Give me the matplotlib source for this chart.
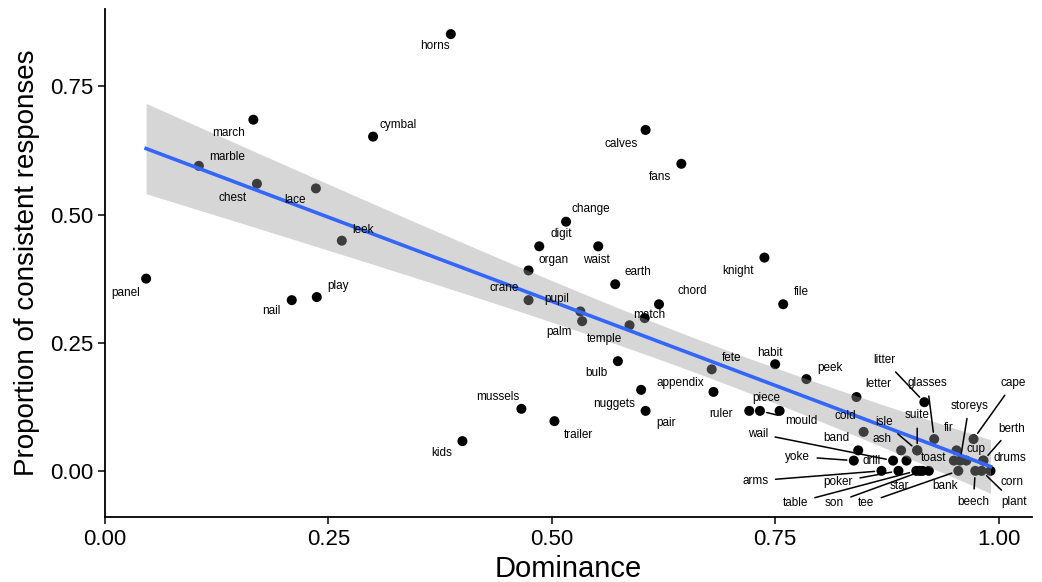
import numpy as np
import matplotlib
matplotlib.use("Agg")
import matplotlib.pyplot as plt

plt.rcParams['font.family'] = ['Liberation Sans', 'DejaVu Sans']

# data
words = ["horns", "march", "cymbal", "marble", "chest", "lace", "leek", "panel",
         "nail", "play", "calves", "fans", "change", "digit", "waist", "organ",
         "earth", "crane", "pupil", "palm", "temple", "match", "chord", "knight",
         "file", "bulb", "nuggets", "appendix", "pair", "mussels", "trailer", "kids",
         "fete", "habit", "peek", "letter", "ruler", "mould", "piece", "cold",
         "litter", "glasses", "cape", "isle", "suite", "ash", "fir", "band",
         "storeys", "wail", "yoke", "drill", "toast", "cup", "berth", "drums",
         "arms", "poker", "table", "son", "star", "bank", "tee", "beech",
         "plant", "corn"]
dominance = [0.387, 0.166, 0.300, 0.105, 0.170, 0.236, 0.265, 0.046,
             0.209, 0.237, 0.605, 0.645, 0.516, 0.486, 0.552, 0.474,
             0.571, 0.474, 0.532, 0.534, 0.587, 0.604, 0.620, 0.738,
             0.759, 0.574, 0.600, 0.681, 0.605, 0.466, 0.503, 0.400,
             0.679, 0.750, 0.785, 0.841, 0.721, 0.733, 0.755, 0.849,
             0.917, 0.928, 0.972, 0.909, 0.909, 0.891, 0.953, 0.843,
             0.957, 0.882, 0.838, 0.897, 0.950, 0.964, 0.983, 0.983,
             0.869, 0.888, 0.908, 0.915, 0.912, 0.922, 0.955, 0.974,
             0.981, 0.991]
consistent = [0.852, 0.685, 0.652, 0.595, 0.560, 0.551, 0.449, 0.375,
              0.333, 0.339, 0.665, 0.599, 0.486, 0.438, 0.438, 0.391,
              0.364, 0.333, 0.311, 0.292, 0.284, 0.298, 0.325, 0.416,
              0.325, 0.214, 0.158, 0.154, 0.117, 0.121, 0.097, 0.058,
              0.198, 0.208, 0.179, 0.144, 0.117, 0.117, 0.117, 0.076,
              0.134, 0.062, 0.062, 0.04, 0.04, 0.04, 0.04, 0.04,
              0.02, 0.02, 0.02, 0.02, 0.02, 0.02, 0.02, 0.02,
              0.0, 0.0, 0.0, 0.0, 0.0, 0.0, 0.0, 0.0,
              0.0, 0.0]

# label offsets in pixels (dx, dy), and whether a leader line is drawn
label_offsets = {
    "horns": (-16, -12), "march": (-25, -13), "cymbal": (25, 12), "marble": (28, 9),
    "chest": (-24, -14), "lace": (-21, -12), "leek": (21, 11), "panel": (-20, -14),
    "nail": (-20, -11), "play": (21, 11), "calves": (-24, -14), "fans": (-21, -13),
    "change": (25, 13), "digit": (22, 12), "waist": (-2, -14), "organ": (25, 10),
    "earth": (23, 12), "crane": (-24, 12), "pupil": (-24, 12), "palm": (-23, -11),
    "temple": (-25, -14), "match": (5, 3), "chord": (33, 13), "knight": (-26, -13),
    "file": (18, 12), "bulb": (-21, -12), "nuggets": (-27, -14), "appendix": (-33, 9),
    "pair": (20, -12), "mussels": (-24, 12), "trailer": (24, -14), "kids": (-21, -12),
    "fete": (20, 11), "habit": (-5, 11), "peek": (24, 11), "letter": (22, 13),
    "ruler": (-28, -3), "mould": (41, -10), "piece": (-13, 13), "cold": (-18, 16),
    "litter": (-40, 42), "glasses": (-7, 56), "cape": (40, 56), "isle": (-33, 28),
    "suite": (0, 35), "ash": (-19, 11), "fir": (-8, 22), "band": (-22, 12),
    "storeys": (9, 55), "wail": (-135, 27), "yoke": (-56, 4), "drill": (-35, 0),
    "toast": (-20, 3), "cup": (10, 12), "berth": (28, 32), "drums": (27, 3),
    "arms": (-126, -10), "poker": (-60, -11), "table": (-121, -32), "son": (-88, -32),
    "star": (-21, -15), "bank": (16, -15), "tee": (-92, -32), "beech": (-2, -31),
    "plant": (32, -31), "corn": (22, -11),
}
with_line = ["mould", "litter", "glasses", "cape", "isle", "suite", "storeys", "wail",
             "yoke", "berth", "arms", "poker", "table", "son", "tee", "beech", "plant"]

x = np.array(dominance)
y = np.array(consistent)

# linear fit with 95% confidence band
slope, intercept = np.polyfit(x, y, 1)
n = len(x)
resid = y - (intercept + slope * x)
s = np.sqrt(np.sum(resid ** 2) / (n - 2))
xs = np.linspace(x.min(), x.max(), 100)
ys = intercept + slope * xs
se = s * np.sqrt(1 / n + (xs - x.mean()) ** 2 / np.sum((x - x.mean()) ** 2))
t_crit = 1.998

fig = plt.figure(figsize=(10.42, 5.82), dpi=100)
ax = fig.add_axes([0.1008, 0.1117, 0.8892, 0.872])

ax.scatter(x, y, s=52, color='black', edgecolor='none', zorder=2)
ax.fill_between(xs, ys - t_crit * se, ys + t_crit * se, color='#999999', alpha=0.4,
                linewidth=0, zorder=3)
ax.plot(xs, ys, color='#3366FF', lw=2.6, zorder=4)

for w, xi, yi in zip(words, x, y):
    dx, dy = label_offsets[w]
    props = None
    if w in with_line:
        props = dict(arrowstyle='-', color='black', lw=1.1, shrinkA=3, shrinkB=5)
    ax.annotate(w, (xi, yi), xytext=(dx, dy), textcoords='offset pixels',
                ha='center', va='center', fontsize=8.5, color='black',
                arrowprops=props, zorder=5)

ax.set_xlim(0.0, 1.037)
ax.set_ylim(-0.09, 0.90)
ax.set_xticks([0.0, 0.25, 0.5, 0.75, 1.0])
ax.set_xticklabels(["0.00", "0.25", "0.50", "0.75", "1.00"])
ax.set_yticks([0.0, 0.25, 0.5, 0.75])
ax.set_yticklabels(["0.00", "0.25", "0.50", "0.75"])
ax.tick_params(labelsize=16, length=5, width=1.1, color='black', labelcolor='black')
for side in ['top', 'right']:
    ax.spines[side].set_visible(False)
for side in ['left', 'bottom']:
    ax.spines[side].set_linewidth(1.3)
ax.set_xlabel("Dominance", fontsize=21, labelpad=4)
ax.set_ylabel("Proportion of consistent responses", fontsize=20, labelpad=7)

plt.savefig("out.png", dpi=100)
